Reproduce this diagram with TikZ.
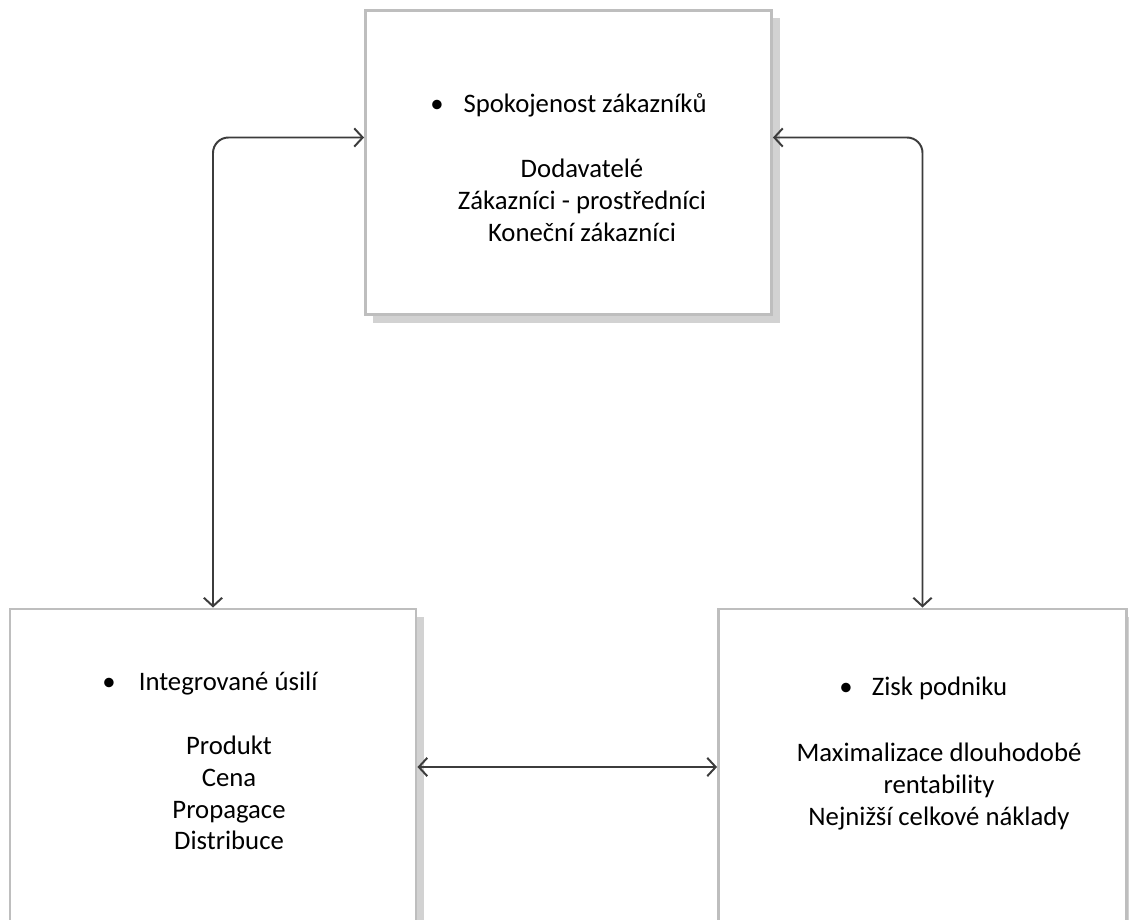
\documentclass[tikz,border=0pt]{standalone}
\usepackage{fontspec}
\setmainfont{Carlito}
\usetikzlibrary{arrows.meta, positioning, calc, shadows}
\definecolor{boxgray}{RGB}{190,190,190}
\definecolor{shadowgray}{RGB}{210,210,210}
\definecolor{linkdark}{RGB}{60,60,60}
\tikzset{
  box/.style={rectangle, draw=boxgray, fill=white, line width=2pt,
    drop shadow={shadow xshift=0.2cm, shadow yshift=-0.2cm, fill=shadowgray, opacity=1}},
  head/.style={anchor=west, font=\fontsize{19}{22}\selectfont, inner sep=0pt},
  items/.style={anchor=north, align=center, font=\fontsize{19}{22.5}\selectfont, inner sep=0pt},
  link/.style={{Straight Barb[length=6pt,width=13pt]}-{Straight Barb[length=6pt,width=13pt]},
    line width=1.4pt, color=linkdark, rounded corners=11pt}
}

\begin{document}
\begin{tikzpicture}[x=0.025cm, y=-0.025cm]
  \useasboundingbox (0,0) rectangle (1129,919);

  % Boxes
  \node[box, minimum width=10.15cm, minimum height=7.6cm] (cust) at (568.5,162.5) {};
  \node[box, minimum width=10.15cm, minimum height=7.9cm] (effort) at (213,767) {};
  \node[box, minimum width=10.2cm, minimum height=7.9cm] (profit) at (922.5,767) {};

  % Texts
  \node[head] (custhead) at (430,105) {•\hspace{0.5cm}Spokojenost zákazníků};
  \node[items] (custlist) at (582,159) {Dodavatelé\\Zákazníci - prostředníci\\Koneční zákazníci};

  \node[head] (efforthead) at (102,684) {•\hspace{0.58cm}Integrované úsilí};
  \node[items] (effortlist) at (229,736) {Produkt\\Cena\\Propagace\\Distribuce};

  \node[head] (profithead) at (839,688) {•\hspace{0.48cm}Zisk podniku};
  \node[items] (profitlist) at (939,743) {Maximalizace dlouhodobé\\rentability\\Nejnižší celkové náklady};

  % Connections
  \draw[link] (effort.north) |- ([yshift=0.625cm]cust.west);
  \draw[link] (profit.north) |- ([yshift=0.625cm]cust.east);
  \draw[link] (effort.east) -- (profit.west);
\end{tikzpicture}
\end{document}
